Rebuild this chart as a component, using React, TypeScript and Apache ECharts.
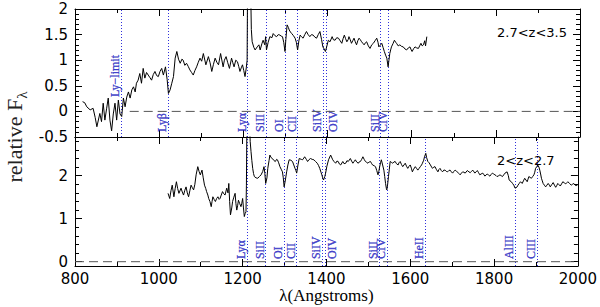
import React, { useEffect, useRef } from "react";
import * as echarts from "echarts";

// ---- Data ----
// Upper panel spectrum (2.7<z<3.5): [wavelength Å, relative flux]
const topSpectrum: [number, number][] = [
  [818,0.19],[823,0.17],[828,0.09],[836,0.03],[843,0.06],[848,-0.12],[852,-0.30],[859,-0.04],[863,-0.20],[867,0.16],
  [871,-0.17],[875,0.05],[879,0.26],[883,-0.17],[887,-0.38],[891,-0.05],[895,0.16],[899,-0.17],[903,0.22],[907,-0.05],
  [911,-0.10],[915,0.26],[919,0.09],[923,0.28],[927,0.38],[931,0.26],[935,0.42],[939,0.48],[943,0.38],[946,0.55],
  [950,0.61],[954,0.74],[958,0.55],[962,0.84],[966,0.65],[970,0.76],[974,0.71],[978,0.66],[982,0.61],[986,0.72],
  [990,0.78],[994,0.70],[998,0.68],[1002,0.78],[1006,0.84],[1010,0.71],[1015,0.87],[1019,0.62],[1022,0.35],[1026,0.42],
  [1030,0.55],[1034,0.68],[1038,1.04],[1042,1.17],[1046,1.02],[1050,0.94],[1054,1.02],[1057,1.00],[1061,0.90],[1065,0.94],
  [1069,0.88],[1073,0.81],[1077,0.76],[1081,0.71],[1085,0.80],[1089,0.87],[1093,0.96],[1097,1.04],[1101,0.98],[1105,1.13],
  [1111,0.91],[1117,1.07],[1121,0.95],[1125,0.78],[1129,0.92],[1133,1.04],[1137,0.96],[1141,0.91],[1146,1.13],[1152,0.87],
  [1155,1.00],[1159,1.07],[1163,0.95],[1167,0.84],[1172,1.04],[1175,0.95],[1178,0.87],[1182,1.00],[1186,0.97],[1189,0.88],
  [1192,0.78],[1195,0.85],[1198,0.91],[1201,0.80],[1204,0.68],[1207,0.85],[1209,1.00],[1210,2.4],[1212,3.0],[1214,3.2],
  [1217,2.6],[1219,1.60],[1221,1.36],[1225,1.25],[1228,1.20],[1233,1.26],[1237,1.30],[1240,1.20],[1244,1.32],[1247,1.39],
  [1251,1.30],[1253,1.46],[1255,1.20],[1259,1.35],[1263,1.46],[1268,1.44],[1271,1.52],[1275,1.48],[1279,1.46],[1283,1.50],
  [1287,1.49],[1290,1.47],[1293,1.46],[1296,1.35],[1299,1.17],[1301,1.40],[1304,1.69],[1307,1.64],[1309,1.59],[1312,1.55],
  [1315,1.52],[1319,1.48],[1323,1.43],[1326,1.35],[1329,1.20],[1332,1.38],[1335,1.49],[1338,1.46],[1342,1.43],[1346,1.50],
  [1350,1.56],[1354,1.50],[1358,1.46],[1362,1.50],[1366,1.49],[1370,1.45],[1374,1.43],[1378,1.50],[1382,1.56],[1386,1.40],
  [1389,1.26],[1392,1.22],[1395,1.17],[1398,1.26],[1402,1.39],[1406,1.36],[1411,1.46],[1414,1.40],[1418,1.39],[1422,1.44],
  [1426,1.43],[1430,1.38],[1434,1.33],[1437,1.42],[1440,1.49],[1443,1.42],[1446,1.36],[1449,1.40],[1451,1.46],[1454,1.40],
  [1457,1.33],[1460,1.38],[1463,1.43],[1466,1.36],[1469,1.30],[1472,1.38],[1475,1.43],[1478,1.40],[1481,1.36],[1484,1.33],
  [1487,1.30],[1490,1.34],[1493,1.36],[1497,1.28],[1501,1.23],[1505,1.30],[1509,1.33],[1513,1.38],[1517,1.43],[1520,1.35],
  [1522,1.26],[1526,1.30],[1529,1.33],[1532,1.25],[1535,1.17],[1538,1.10],[1541,1.04],[1544,0.87],[1546,1.00],[1548,1.13],
  [1550,1.20],[1552,1.26],[1556,1.33],[1559,1.39],[1562,1.35],[1564,1.33],[1568,1.28],[1572,1.30],[1576,1.27],[1580,1.26],
  [1584,1.22],[1588,1.20],[1592,1.24],[1596,1.26],[1599,1.20],[1601,1.17],[1605,1.23],[1608,1.26],[1612,1.24],[1616,1.23],
  [1619,1.28],[1622,1.33],[1625,1.28],[1628,1.30],[1631,1.38],[1633,1.28],[1636,1.46],
];

// Lower panel spectrum (2<z<2.7)
const bottomSpectrum: [number, number][] = [
  [1022,1.59],[1026,1.47],[1029,1.65],[1032,1.78],[1036,1.51],[1039,1.70],[1042,1.86],[1045,1.70],[1048,1.59],[1053,1.71],
  [1056,1.62],[1059,1.55],[1062,1.66],[1065,1.74],[1068,1.60],[1071,1.51],[1074,1.65],[1077,1.78],[1080,1.72],[1083,1.67],
  [1086,1.80],[1089,2.02],[1093,2.21],[1096,2.10],[1099,2.02],[1103,2.13],[1106,1.95],[1109,1.78],[1112,1.70],[1114,1.63],
  [1117,1.55],[1119,1.47],[1122,1.40],[1125,1.28],[1127,1.40],[1129,1.51],[1132,1.45],[1135,1.40],[1138,1.47],[1141,1.51],
  [1144,1.45],[1146,1.47],[1149,1.55],[1152,1.63],[1155,1.58],[1158,1.55],[1162,1.71],[1165,1.60],[1167,1.82],[1169,1.40],
  [1171,1.09],[1174,1.25],[1176,1.40],[1179,1.50],[1182,1.59],[1184,1.35],[1186,1.20],[1188,1.30],[1190,1.43],[1193,1.35],
  [1196,1.28],[1198,1.36],[1200,1.47],[1202,1.25],[1204,1.05],[1206,1.12],[1208,1.16],[1209,1.78],[1210,3.0],[1213,3.6],
  [1216,3.4],[1218,2.8],[1220,2.56],[1222,2.35],[1224,2.17],[1226,2.05],[1228,1.98],[1232,1.95],[1236,1.94],[1240,1.98],
  [1244,2.02],[1248,2.10],[1251,2.21],[1253,2.05],[1255,1.82],[1258,1.95],[1260,2.17],[1263,2.35],[1265,2.48],[1268,2.42],
  [1271,2.40],[1274,2.36],[1278,2.33],[1281,2.38],[1283,2.37],[1286,2.30],[1289,2.21],[1292,2.15],[1295,2.09],[1297,1.95],
  [1299,1.74],[1302,1.90],[1305,2.09],[1308,2.25],[1311,2.37],[1315,2.36],[1319,2.33],[1322,2.25],[1325,2.17],[1327,2.12],
  [1329,2.06],[1332,2.25],[1335,2.40],[1340,2.38],[1343,2.37],[1346,2.41],[1348,2.44],[1352,2.38],[1355,2.33],[1358,2.37],
  [1362,2.40],[1366,2.38],[1370,2.37],[1374,2.33],[1378,2.29],[1381,2.24],[1384,2.17],[1387,2.08],[1389,2.02],[1391,1.95],
  [1393,1.90],[1396,1.98],[1398,2.06],[1401,2.22],[1405,2.37],[1410,2.48],[1415,2.37],[1418,2.33],[1422,2.29],[1425,2.34],
  [1428,2.33],[1431,2.27],[1434,2.25],[1439,2.33],[1442,2.28],[1446,2.29],[1449,2.35],[1452,2.33],[1457,2.40],[1460,2.34],
  [1463,2.29],[1466,2.33],[1469,2.37],[1472,2.32],[1476,2.29],[1478,2.32],[1481,2.33],[1484,2.38],[1487,2.44],[1490,2.38],
  [1493,2.33],[1496,2.31],[1499,2.29],[1502,2.32],[1505,2.33],[1508,2.28],[1510,2.25],[1514,2.23],[1517,2.21],[1520,2.12],
  [1523,2.02],[1525,2.10],[1527,2.21],[1529,2.30],[1531,2.37],[1534,2.25],[1537,2.13],[1539,1.98],[1541,1.82],[1543,1.70],
  [1544,1.67],[1546,1.80],[1548,1.98],[1550,2.15],[1552,2.33],[1555,2.31],[1558,2.29],[1561,2.32],[1564,2.33],[1567,2.28],
  [1571,2.25],[1573,2.30],[1576,2.33],[1579,2.26],[1582,2.21],[1585,2.25],[1588,2.29],[1591,2.22],[1594,2.17],[1597,2.22],
  [1600,2.25],[1603,2.16],[1605,2.09],[1608,2.15],[1612,2.21],[1615,2.17],[1618,2.13],[1621,2.17],[1624,2.21],[1627,2.25],
  [1629,2.29],[1632,2.36],[1634,2.44],[1637,2.52],[1639,2.42],[1642,2.33],[1645,2.30],[1648,2.25],[1651,2.20],[1653,2.17],
  [1656,2.20],[1659,2.21],[1662,2.15],[1666,2.09],[1668,2.14],[1671,2.17],[1674,2.12],[1677,2.09],[1680,2.13],[1683,2.13],
  [1686,2.10],[1689,2.09],[1692,2.12],[1695,2.13],[1698,2.09],[1701,2.06],[1704,2.10],[1707,2.13],[1710,2.11],[1712,2.09],
  [1716,2.05],[1719,2.02],[1722,2.06],[1725,2.09],[1728,2.08],[1731,2.06],[1736,2.12],[1740,2.09],[1743,2.07],[1746,2.10],
  [1749,2.13],[1752,2.09],[1754,2.06],[1757,2.09],[1760,2.12],[1763,2.07],[1766,2.02],[1769,2.04],[1773,2.06],[1776,2.02],
  [1778,1.99],[1781,2.02],[1784,2.04],[1787,2.01],[1790,1.99],[1793,2.03],[1796,2.06],[1799,2.04],[1802,2.02],[1805,2.00],
  [1807,1.98],[1811,2.00],[1814,2.02],[1817,2.00],[1820,1.98],[1823,2.02],[1826,2.06],[1831,2.09],[1834,2.00],[1836,1.90],
  [1838,1.88],[1841,1.86],[1844,1.82],[1847,1.78],[1850,1.71],[1852,1.72],[1855,1.74],[1857,1.78],[1860,1.82],[1863,1.86],
  [1867,1.82],[1870,1.88],[1873,1.94],[1876,1.90],[1879,1.86],[1881,1.92],[1883,1.98],[1886,1.96],[1889,1.94],[1892,1.98],
  [1895,2.02],[1897,2.08],[1899,2.17],[1902,2.21],[1904,2.25],[1907,2.20],[1909,2.13],[1911,2.04],[1913,1.94],[1915,1.88],
  [1917,1.82],[1920,1.78],[1923,1.74],[1926,1.78],[1929,1.82],[1932,1.78],[1934,1.74],[1938,1.80],[1941,1.84],[1944,1.78],
  [1947,1.73],[1950,1.78],[1952,1.82],[1955,1.79],[1958,1.76],[1961,1.81],[1964,1.86],[1968,1.83],[1971,1.81],[1974,1.84],
  [1976,1.86],[1980,1.82],[1984,1.78],[1987,1.80],[1990,1.82],[1993,1.79],[1996,1.76],[2000,1.80],
];

// Spectral line markers: [wavelength as drawn, label, label side (1 = left of line, -1 = right)]
const topLines: [number, string, number][] = [
  [909, "Ly\u2212limit", 1], [1022, "Ly\u03b2", 1], [1210, "Ly\u03b1", 1], [1255, "SiII", 1], [1299, "OI", 1],
  [1329, "CII", 1], [1389, "SiIV", 1], [1398, "OIV", -1], [1526, "SiII", 1], [1545, "CIV", 1],
];
const bottomLines: [number, string, number][] = [
  [1210, "Ly\u03b1", 1], [1255, "SiII", 1], [1299, "OI", 1], [1329, "CII", 1], [1389, "SiIV", 1],
  [1398, "OIV", -1], [1526, "SiII", 1], [1545, "CIV", 1], [1636, "HeII", 1], [1850, "AlIII", 1], [1903, "CIII", 1],
];
// Label start heights (flux units in each panel)
const topLabelStart = -0.4;
const lyLimitLabelStart = 0.28;
const bottomLabelStart = 0.06;

// Zero-flux reference lines
const topZero: [number, number][] = [[930, 0], [2000, 0]];
const bottomZero: [number, number][] = [[800, 0], [2000, 0]];

// Axis ranges & ticks
const xMin = 800, xMax = 2000, xStep = 200;
const topYMin = -0.5, topYMax = 2, topYStep = 0.5;
const botYMin = -0.1, botYMax = 2.9;
const botMajor = [0, 1, 2];
const botMinor = [0.2, 0.4, 0.6, 0.8, 1.2, 1.4, 1.6, 1.8, 2.2, 2.4, 2.6, 2.8];

const panelTags = ["2.7<z<3.5", "2<z<2.7"];

const BLUE = "#1c1cc0";
const DOT_BLUE = "#3030dc";
const BLACK = "#000";
const SANS = "DejaVu Sans";
const SERIF = "Liberation Serif";

export default function App() {
  const ref = useRef<HTMLDivElement>(null);
  useEffect(() => {
    if (!ref.current) return;
    const chart = echarts.init(ref.current, undefined, { renderer: "svg" });
    const line = { color: BLACK, width: 1 };

    const xAx = (gridIndex: number, position: string, labels: boolean, name?: string) => ({
      type: "value", gridIndex, position, min: xMin, max: xMax, interval: xStep,
      axisLine: { show: true, onZero: false, lineStyle: line },
      axisTick: { show: true, inside: true, length: 7, lineStyle: line },
      minorTick: { show: true, splitNumber: 2, length: 4, lineStyle: line },
      axisLabel: { show: labels, color: BLACK, fontFamily: SANS, fontSize: 15, margin: 5,
        formatter: (v: number) => String(v) },
      splitLine: { show: false }, minorSplitLine: { show: false },
      name, nameLocation: "middle", nameGap: 13,
      nameTextStyle: { fontFamily: SERIF, fontSize: 17, color: BLACK, verticalAlign: "top" },
    });
    const topY = (position: string, labels: boolean) => ({
      type: "value", gridIndex: 0, position, min: topYMin, max: topYMax, interval: topYStep,
      axisLine: { show: true, onZero: false, lineStyle: line },
      axisTick: { show: true, inside: true, length: 7, lineStyle: line },
      minorTick: { show: true, splitNumber: 5, length: 4, lineStyle: line },
      axisLabel: { show: labels, color: BLACK, fontFamily: SANS, fontSize: 15, margin: 7 },
      splitLine: { show: false }, minorSplitLine: { show: false },
    });
    const botY = (position: string, major: boolean, labels: boolean) => ({
      type: "value", gridIndex: 1, position, min: botYMin, max: botYMax,
      axisLine: { show: major, onZero: false, lineStyle: line },
      axisTick: { show: true, inside: true, length: major ? 7 : 4, lineStyle: line,
        customValues: major ? botMajor : botMinor },
      axisLabel: { show: labels, color: BLACK, fontFamily: SANS, fontSize: 15, margin: 7,
        customValues: botMajor },
      splitLine: { show: false },
    });

    const labelItems = (lines: [number, string, number][], start: number, special?: number) =>
      lines.map(([w, t, side]) => ({
        value: [w, special != null && t.startsWith("Ly\u2212") ? special : start],
        name: t,
        label: {
          show: true, formatter: "{b}", position: "inside", rotate: 90,
          align: "left", verticalAlign: side > 0 ? "bottom" : "top",
          color: BLUE, fontFamily: SERIF, fontSize: 12,
          textBorderColor: BLUE, textBorderWidth: 0.35,
        },
      }));

    const vLines = (lines: [number, string, number][]) => ({
      silent: true, symbol: ["none", "none"], z: 1,
      label: { show: false },
      lineStyle: { type: [1, 2], color: DOT_BLUE, width: 1, opacity: 1 },
      data: lines.map(([w]) => ({ xAxis: w })),
    });

    const option: any = {
      animation: false,
      backgroundColor: "#fff",
      grid: [
        { left: 75, right: 20, top: 9, height: 128 },
        { left: 75, right: 20, top: 137, height: 129 },
      ],
      xAxis: [
        xAx(0, "bottom", false), xAx(0, "top", false),
        xAx(1, "bottom", true, "\u03bb(Angstroms)"), xAx(1, "top", false),
      ],
      yAxis: [
        topY("left", true), topY("right", false),
        botY("left", true, true), botY("left", false, false),
        botY("right", true, false), botY("right", false, false),
      ],
      series: [
        {
          type: "scatter", xAxisIndex: 0, yAxisIndex: 0, symbolSize: 1, z: 1,
          itemStyle: { color: "rgba(0,0,0,0)" }, silent: true,
          data: labelItems(topLines, topLabelStart, lyLimitLabelStart),
          markLine: vLines(topLines),
        },
        {
          type: "line", xAxisIndex: 0, yAxisIndex: 0, data: topZero, showSymbol: false, z: 2,
          lineStyle: { color: "#555", width: 1, type: [9, 5] }, silent: true,
        },
        {
          type: "line", xAxisIndex: 0, yAxisIndex: 0, data: topSpectrum, showSymbol: false, z: 3,
          lineStyle: { color: BLACK, width: 1 }, silent: true,
        },
        {
          type: "scatter", xAxisIndex: 2, yAxisIndex: 2, symbolSize: 1, z: 1,
          itemStyle: { color: "rgba(0,0,0,0)" }, silent: true,
          data: labelItems(bottomLines, bottomLabelStart),
          markLine: vLines(bottomLines),
        },
        {
          type: "line", xAxisIndex: 2, yAxisIndex: 2, data: bottomZero, showSymbol: false, z: 2,
          lineStyle: { color: "#555", width: 1, type: [9, 5] }, silent: true,
        },
        {
          type: "line", xAxisIndex: 2, yAxisIndex: 2, data: bottomSpectrum, showSymbol: false, z: 3,
          lineStyle: { color: BLACK, width: 1 }, silent: true,
        },
      ],
      graphic: [
        {
          type: "text", left: 497, top: 26,
          style: { text: panelTags[0], font: `13px '${SANS}'`, fill: BLACK },
        },
        {
          type: "text", left: 497, top: 154,
          style: { text: panelTags[1], font: `13px '${SANS}'`, fill: BLACK },
        },
        {
          type: "text", x: 14, y: 137, rotation: Math.PI / 2,
          style: {
            text: "{m|relative F}{s|\u03bb}",
            align: "center", verticalAlign: "middle", fill: "#222",
            rich: {
              m: { fontFamily: SERIF, fontSize: 22, lineHeight: 30, fill: "#222" },
              s: { fontFamily: SERIF, fontSize: 15, lineHeight: 15, verticalAlign: "bottom", fill: "#222" },
            },
          },
        },
      ],
    };
    chart.setOption(option);
    return () => chart.dispose();
  }, []);
  return (
    <div
      ref={ref}
      style={{ position: "fixed", left: 0, top: 0, width: 600, height: 307, background: "#fff" }}
    />
  );
}
